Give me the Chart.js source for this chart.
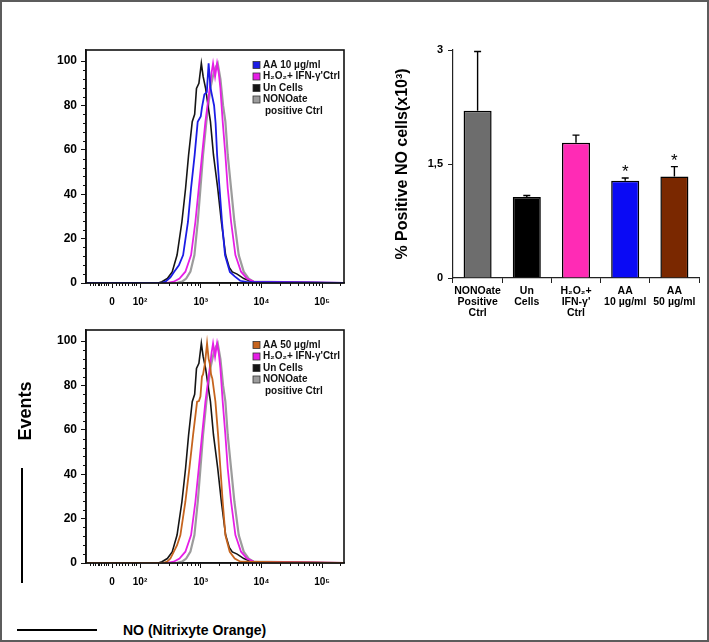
<!DOCTYPE html>
<html lang="en">
<head>
<meta charset="UTF-8">
<title>NO (Nitrixyte Orange) flow cytometry</title>
<script src="https://cdn.jsdelivr.net/npm/chart.js"></script>
<style>
  html, body { margin: 0; padding: 0; background: #fff; }
  #page { position: relative; width: 709px; height: 642px; overflow: hidden; font-family: "Liberation Sans", Arial, sans-serif; }
  #frame { position: absolute; left: 0; top: 0; width: 709px; height: 642px; box-sizing: border-box; border: 2px solid #5c5c5c; pointer-events: none; }
  canvas { position: absolute; }
  .txt { position: absolute; white-space: nowrap; color: #000; font-weight: bold; }
  .bar { position: absolute; background: #000; }
</style>
</head>
<body>
<div id="page">
  <canvas id="hist1" width="360" height="290" style="left:0;top:30px"></canvas>
  <canvas id="hist2" width="360" height="290" style="left:0;top:310px"></canvas>
  <canvas id="bars" width="347" height="300" style="left:360px;top:30px"></canvas>

  <div class="txt" style="left:25px;top:411px;font-size:18px;transform:translate(-50%,-50%) rotate(-90deg)">Events</div>
  <div class="bar" style="left:21px;top:468px;width:2px;height:115px"></div>
  <div class="bar" style="left:17px;top:629px;width:80px;height:2px"></div>
  <div class="txt" style="left:123px;top:621px;font-size:14px;line-height:18px">NO (Nitrixyte Orange)</div>
  <div id="frame"></div>
</div>

<script>
    // histogram x positions are in decades of the biexponential axis (3 = 10^3)
    const xMin = 1.11, xMax = 5.36;
    const xMajorTicks = [1.54, 2, 3, 4, 5];
    const xTickLabels = ["0", "10²", "10³", "10⁴", "10⁵"];
    const xLinearMinor = [1.17, 1.22, 1.26, 1.30, 1.33, 1.36, 1.40, 1.44, 1.48, 1.60, 1.66, 1.71, 1.76, 1.81, 1.86, 1.90, 1.94];
    const yTicks = [0, 20, 40, 60, 80, 100];

    // Un Cells
    const unCellsX = [xMin, 2.30, 2.36, 2.45, 2.53, 2.61, 2.69, 2.75, 2.80, 2.86, 2.90, 2.93, 2.97, 3.01, 3.04, 3.08, 3.12, 3.16, 3.21, 3.28, 3.34, 3.41, 3.47, 3.52, 3.60, 3.71, 3.80, 3.87, xMax];
    const unCellsY = [0, 0, 0.6, 2, 5, 12.6, 27.6, 42.6, 57.7, 72.7, 76, 87.7, 90, 99, 93, 87.7, 80, 72.7, 57.7, 42.6, 27.6, 12.6, 7, 5, 4, 2, 1, 0.5, 0];
    // AA 10 µg/ml
    const aa10X = [xMin, 2.35, 2.42, 2.50, 2.56, 2.64, 2.71, 2.79, 2.84, 2.90, 2.95, 3.00, 3.02, 3.06, 3.10, 3.13, 3.16, 3.19, 3.22, 3.245, 3.27, 3.31, 3.35, 3.40, 3.48, 3.56, 3.65, 3.75, xMax];
    const aa10Y = [0, 0, 0.6, 2.5, 5, 8, 12.6, 27.6, 42.6, 57.7, 72.7, 75, 79, 85, 86, 99, 88, 84, 80, 72, 57.7, 42.6, 27.6, 12.6, 5, 3, 1, 0.5, 0];
    // AA 50 µg/ml
    const aa50X = [xMin, 2.38, 2.445, 2.50, 2.555, 2.61, 2.665, 2.747, 2.813, 2.874, 2.94, 2.97, 2.995, 3.02, 3.038, 3.07, 3.104, 3.13, 3.148, 3.17, 3.192, 3.242, 3.286, 3.324, 3.362, 3.406, 3.478, 3.56, 3.654, xMax];
    const aa50Y = [0, 0, 0.6, 2, 5, 8, 12.6, 27.6, 42.6, 57.7, 72.7, 73, 75, 84, 85, 90, 99, 92, 90, 85, 83, 72.7, 57.7, 42.6, 27.6, 12.6, 5, 2, 0.6, 0];
    // H2O2 + IFN-γ Ctrl
    const h2o2X = [xMin, 2.45, 2.555, 2.65, 2.747, 2.841, 2.912, 2.967, 3.022, 3.077, 3.148, 3.18, 3.203, 3.236, 3.269, 3.30, 3.324, 3.362, 3.406, 3.445, 3.50, 3.571, 3.664, 3.76, 3.873, xMax];
    const h2o2Y = [0, 0, 0.6, 2, 5.1, 12.6, 27.6, 42.6, 57.7, 72.7, 87.7, 95, 99, 93, 99, 94, 87.7, 72.7, 57.7, 42.6, 27.6, 12.6, 5.1, 2, 0.6, 0];
    // NONOate positive Ctrl
    const nonoX = [xMin, 2.60, 2.692, 2.76, 2.830, 2.896, 2.951, 2.995, 3.038, 3.093, 3.159, 3.20, 3.242, 3.280, 3.324, 3.368, 3.406, 3.445, 3.50, 3.555, 3.626, 3.708, 3.79, 3.873, xMax];
    const nonoY = [0, 0, 0.6, 2, 5.1, 12.6, 27.6, 42.6, 57.7, 72.7, 87.7, 93, 97, 99, 92, 80, 72.7, 57.7, 42.6, 27.6, 12.6, 5.1, 2, 0.6, 0];

    // bar chart
    const barLabels = [["NONOate", "Positive", "Ctrl"], ["Un", "Cells"], ["H₂O₂+", "IFN-γ'", "Ctrl"], ["AA", "10 µg/ml"], ["AA", "50 µg/ml"]];
    const barValues = [2.20, 1.065, 1.78, 1.28, 1.335];
    const barErrors = [0.78, 0.02, 0.10, 0.035, 0.13];
    const barMarks = ["", "", "", "*", "*"];
    const barColors = ["#6d6d6d", "#000000", "#ff2bb5", "#0a0af5", "#7a2800"];
    const barYTicks = [0, 1.5, 3];
    const barYTickLabels = ["0", "1,5", "3"];

    const FONT = '"Liberation Sans", Arial, sans-serif';
    const pts = (xs, ys) => xs.map((x, i) => ({ x: x, y: ys[i] }));

    function curve(label, xs, ys, color, width) {
        return { label: label, data: pts(xs, ys), borderColor: color, borderWidth: width,
                 pointRadius: 0, tension: 0, fill: false };
    }

    // legend, frame and minor ticks for the histograms
    const histDecor = {
        id: 'histDecor',
        afterDraw(chart) {
            const { ctx, chartArea: a, scales: { x, y } } = chart;
            ctx.save();
            ctx.strokeStyle = '#111';
            ctx.lineWidth = 1;
            ctx.beginPath();
            const minor = xLinearMinor.slice();
            [2, 3, 4, 5].forEach(k => { for (let m = 2; m <= 9; m++) minor.push(k + Math.log10(m)); });
            minor.filter(v => v < xMax).forEach(v => {
                const px = Math.round(x.getPixelForValue(v)) + 0.5;
                ctx.moveTo(px, a.bottom); ctx.lineTo(px, a.bottom + 3);
            });
            for (let v = 4; v < 104; v += 4) {
                if (v % 20 === 0) continue;
                const py = Math.round(y.getPixelForValue(v)) + 0.5;
                ctx.moveTo(a.left, py); ctx.lineTo(a.left - 3, py);
            }
            ctx.stroke();
            ctx.lineWidth = 1.6;
            ctx.strokeRect(a.left, a.top, a.right - a.left, a.bottom - a.top);

            // legend
            const bx = a.left + 167, tx = bx + 10;
            let ly = a.top + 15;
            ctx.font = 'bold 10px ' + FONT;
            ctx.textBaseline = 'middle';
            chart.data.datasets.forEach(ds => {
                ctx.fillStyle = ds.borderColor;
                ctx.fillRect(bx, ly - 3.5, 7, 7);
                ctx.strokeStyle = '#333';
                ctx.lineWidth = 0.8;
                ctx.strokeRect(bx, ly - 3.5, 7, 7);
                ds.label.split('\n').forEach((line, k) => {
                    ctx.fillStyle = '#111';
                    ctx.fillText(line, tx + (k ? 2 : 0), ly);
                    ly += 11.5;
                });
            });
            ctx.restore();
        }
    };

    function histogram(id, datasets) {
        return new Chart(document.getElementById(id), {
            type: 'line',
            data: { datasets: datasets },
            options: {
                responsive: false, animation: false, devicePixelRatio: 1,
                layout: { padding: { top: 20, right: 16, left: 0, bottom: 0 } },
                plugins: { legend: { display: false }, tooltip: { enabled: false } },
                scales: {
                    x: {
                        type: 'linear', min: xMin, max: xMax,
                        afterBuildTicks: s => { s.ticks = xMajorTicks.map(v => ({ value: v })); },
                        afterFit: s => { s.height = 37; },
                        grid: { drawOnChartArea: false, tickLength: 5, color: '#111' },
                        border: { color: '#111', width: 1.6 },
                        ticks: { color: '#000', padding: 8, maxRotation: 0, autoSkip: false,
                                 font: { family: FONT, size: 10, weight: 'bold' },
                                 callback: (v, i) => xTickLabels[i] }
                    },
                    y: {
                        min: 0, max: 105,
                        afterBuildTicks: s => { s.ticks = yTicks.map(v => ({ value: v })); },
                        afterFit: s => { s.width = 86; },
                        grid: { drawOnChartArea: false, tickLength: 5, color: '#111' },
                        border: { color: '#111', width: 1.6 },
                        ticks: { color: '#000', padding: 4,
                                 font: { family: FONT, size: 12, weight: 'bold' } }
                    }
                }
            },
            plugins: [histDecor]
        });
    }

    // first dataset is drawn on top
    histogram('hist1', [
        curve('AA 10 µg/ml', aa10X, aa10Y, '#1c1ce6', 1.8),
        curve("H₂O₂+ IFN-γ'Ctrl", h2o2X, h2o2Y, '#e61ee6', 1.8),
        curve('Un Cells', unCellsX, unCellsY, '#151515', 1.6),
        curve('NONOate\npositive Ctrl', nonoX, nonoY, '#9c9c9c', 2.2)
    ]);

    histogram('hist2', [
        curve('AA 50 µg/ml', aa50X, aa50Y, '#c6641e', 1.8),
        curve("H₂O₂+ IFN-γ'Ctrl", h2o2X, h2o2Y, '#e61ee6', 1.8),
        curve('Un Cells', unCellsX, unCellsY, '#151515', 1.6),
        curve('NONOate\npositive Ctrl', nonoX, nonoY, '#9c9c9c', 2.2)
    ]);

    // error bars (upper only) and significance marks
    const errorBars = {
        id: 'errorBars',
        afterDatasetsDraw(chart) {
            const { ctx, scales: { y } } = chart;
            const meta = chart.getDatasetMeta(0);
            ctx.save();
            ctx.strokeStyle = '#000';
            ctx.lineWidth = 1.4;
            ctx.fillStyle = '#000';
            ctx.font = '17px ' + FONT;
            ctx.textAlign = 'center';
            meta.data.forEach((bar, i) => {
                const top = y.getPixelForValue(barValues[i] + barErrors[i]);
                ctx.beginPath();
                ctx.moveTo(bar.x, bar.y);
                ctx.lineTo(bar.x, top);
                ctx.moveTo(bar.x - 3.5, top);
                ctx.lineTo(bar.x + 3.5, top);
                ctx.stroke();
                if (barMarks[i]) ctx.fillText(barMarks[i], bar.x, top - 1);
            });
            ctx.restore();
        }
    };

    new Chart(document.getElementById('bars'), {
        type: 'bar',
        data: {
            labels: barLabels,
            datasets: [{ data: barValues, backgroundColor: barColors, borderColor: '#000',
                         borderWidth: 1.5, barPercentage: 0.57, categoryPercentage: 1 }]
        },
        options: {
            responsive: false, animation: false, devicePixelRatio: 1,
            layout: { padding: { top: 20, right: 8, left: 0, bottom: 0 } },
            plugins: { legend: { display: false }, tooltip: { enabled: false } },
            scales: {
                x: {
                    afterFit: s => { s.height = 52; },
                    grid: { drawOnChartArea: false, tickLength: 5, color: '#222' },
                    border: { color: '#222', width: 1.2 },
                    ticks: { color: '#000', padding: 3, maxRotation: 0, autoSkip: false,
                             font: { family: FONT, size: 10.5, weight: 'bold', lineHeight: 1.05 } }
                },
                y: {
                    min: 0, max: 3,
                    afterBuildTicks: s => { s.ticks = barYTicks.map(v => ({ value: v })); },
                    afterFit: s => { s.width = 93; },
                    grid: { drawOnChartArea: false, tickLength: 5, color: '#222' },
                    border: { color: '#222', width: 1.2 },
                    ticks: { color: '#000', padding: 5, font: { family: FONT, size: 11, weight: 'bold' },
                             callback: (v, i) => barYTickLabels[i] },
                    title: { display: true, text: '% Positive NO cells(x10³)', color: '#000',
                             font: { family: FONT, size: 16, weight: 'bold' },
                             padding: { top: 33, bottom: 0 } }
                }
            }
        },
        plugins: [errorBars]
    });
</script>
</body>
</html>
